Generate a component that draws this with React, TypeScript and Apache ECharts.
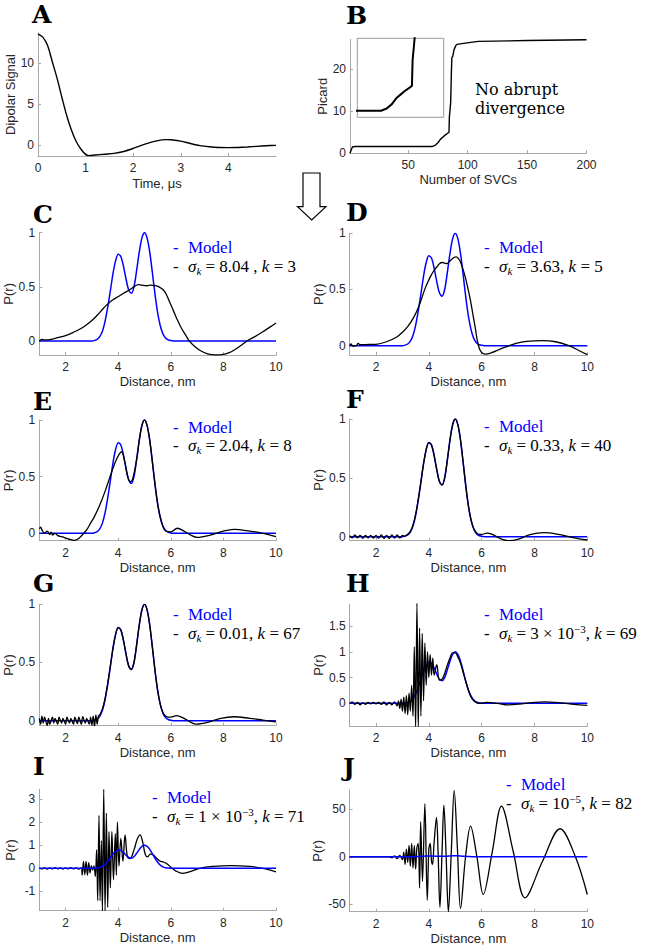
import React, { useEffect, useRef } from "react";
import * as echarts from "echarts";

type P = [number, number];

// ---------------- DATA ----------------
const timeTicks = [0, 1, 2, 3, 4];
const signalTicks = [0, 5, 10];
const svcTicks = [50, 100, 150, 200];
const picardTicks = [0, 10, 20];
const distanceTicks = [2, 4, 6, 8, 10];
const probTicks = [0, 0.5, 1];
const probTicksH = [0, 0.5, 1, 1.5];
const probTicksI = [-1, 0, 1, 2, 3];
const probTicksJ = [-50, 0, 50];

// A: dipolar signal vs time (us)
const dipolarSignal: P[] = [
  [0, 13.6], [0.1, 13.2], [0.2, 12.2], [0.3, 10.2], [0.4, 8.2], [0.5, 5.9], [0.6, 3.7], [0.7, 1.9],
  [0.8, 0.5], [0.9, -0.45], [1.0, -1.1], [1.07, -1.25], [1.2, -1.18], [1.4, -1.08], [1.6, -0.98],
  [1.8, -0.75], [2.0, -0.38], [2.2, 0.05], [2.4, 0.42], [2.6, 0.66], [2.7, 0.7], [2.8, 0.68],
  [3.0, 0.52], [3.2, 0.22], [3.4, -0.04], [3.6, -0.18], [3.8, -0.26], [4.0, -0.28], [4.2, -0.26],
  [4.4, -0.2], [4.6, -0.12], [4.8, -0.05], [5.0, 0],
];

// B: Picard curve vs number of SVCs
const picardCurve: P[] = [
  [1, 0], [2, 0.8], [3, 1.5], [5, 1.6], [70, 1.6], [72.6, 1.9], [75, 2.5], [77, 3.3], [79, 3.8],
  [81, 4.3], [83.4, 4.8], [84.3, 5.0], [84.6, 8.5], [85.7, 12], [86.3, 19], [86.7, 22.6], [87.5, 23],
  [88.5, 24.5], [90, 25.5], [91, 25.8], [98, 26.1], [109, 26.5], [150, 26.7], [200, 26.9],
];

// Model distance distribution (blue)
const modelDistribution: P[] = [
  [1, 0], [3.0, 0], [3.1, 0.005], [3.2, 0.015], [3.3, 0.04], [3.4, 0.09], [3.5, 0.18], [3.6, 0.31],
  [3.7, 0.46], [3.8, 0.62], [3.9, 0.74], [4.0, 0.8], [4.1, 0.78], [4.2, 0.69], [4.3, 0.57], [4.4, 0.47],
  [4.5, 0.44], [4.6, 0.5], [4.7, 0.65], [4.8, 0.82], [4.9, 0.95], [5.0, 1.0], [5.1, 0.95], [5.2, 0.82],
  [5.3, 0.63], [5.4, 0.43], [5.5, 0.26], [5.6, 0.14], [5.7, 0.065], [5.8, 0.027], [5.9, 0.01],
  [6.0, 0.003], [6.1, 0], [10, 0],
];

const fitC: P[] = [
  [1.0, 0], [1.1, 0.015], [1.2, 0.01], [1.4, 0.012], [1.7, 0.03], [2.0, 0.05], [2.3, 0.08], [2.55, 0.11],
  [2.8, 0.15], [3.05, 0.2], [3.25, 0.25], [3.43, 0.3], [3.6, 0.34], [3.8, 0.38], [4.0, 0.41], [4.2, 0.44],
  [4.45, 0.475], [4.6, 0.5], [4.76, 0.52], [4.9, 0.515], [5.08, 0.51], [5.25, 0.515], [5.4, 0.512],
  [5.55, 0.5], [5.72, 0.47], [5.85, 0.42], [5.97, 0.35], [6.1, 0.28], [6.22, 0.21], [6.4, 0.12],
  [6.6, 0.04], [6.7, 0.0], [6.9, -0.05], [7.1, -0.086], [7.4, -0.12], [7.7, -0.13], [8.0, -0.125],
  [8.2, -0.11], [8.4, -0.086], [8.65, -0.045], [8.9, 0.0], [9.2, 0.04], [9.5, 0.085], [9.75, 0.125], [10, 0.165],
];

const fitD: P[] = [
  [1.0, 0], [1.05, 0.015], [1.12, -0.003], [1.25, 0.0], [1.32, 0.02], [1.4, 0.008], [1.6, 0.01],
  [2.0, 0.012], [2.4, 0.035], [2.8, 0.08], [3.0, 0.12], [3.2, 0.17], [3.4, 0.24], [3.55, 0.31],
  [3.67, 0.38], [3.77, 0.45], [3.86, 0.51], [3.95, 0.56], [4.05, 0.61], [4.17, 0.66], [4.3, 0.7],
  [4.4, 0.73], [4.5, 0.74], [4.6, 0.735], [4.68, 0.73], [4.78, 0.75], [4.87, 0.77], [4.95, 0.785],
  [5.04, 0.79], [5.12, 0.775], [5.19, 0.75], [5.28, 0.69], [5.38, 0.61], [5.48, 0.51], [5.57, 0.41],
  [5.66, 0.29], [5.75, 0.17], [5.84, 0.04], [5.92, -0.03], [6.0, -0.06], [6.15, -0.075], [6.4, -0.06],
  [6.7, -0.03], [7.0, -0.005], [7.3, 0.02], [7.7, 0.038], [8.3, 0.045], [8.8, 0.035], [9.3, 0.0],
  [9.7, -0.045], [10, -0.08],
];

const fitE: P[] = [
  [1.0, 0.04], [1.05, 0.055], [1.1, 0.03], [1.2, 0.0], [1.3, 0.02], [1.4, -0.01], [1.45, 0.01],
  [1.5, -0.015], [1.6, 0.0], [1.7, -0.02], [1.85, -0.03], [2.05, -0.045], [2.2, -0.055], [2.35, -0.062],
  [2.5, -0.045], [2.65, -0.01], [2.8, 0.03], [2.95, 0.09], [3.1, 0.15], [3.3, 0.25], [3.5, 0.37],
  [3.75, 0.54], [3.95, 0.66], [4.13, 0.72], [4.25, 0.63], [4.35, 0.51], [4.46, 0.455], [4.55, 0.48],
  [4.7, 0.65], [4.8, 0.82], [4.9, 0.95], [5.0, 1.0], [5.1, 0.95], [5.2, 0.82], [5.3, 0.63], [5.4, 0.43],
  [5.5, 0.26], [5.6, 0.14], [5.7, 0.06], [5.8, 0.02], [6.0, 0.012], [6.25, 0.045], [6.5, 0.02],
  [6.8, -0.02], [7.0, -0.035], [7.5, -0.015], [8.0, 0.02], [8.4, 0.035], [9.0, 0.02], [9.5, 0.0], [10, -0.03],
];

const fitF: P[] = [
  [1.0, 0.01], [1.1, -0.01], [1.2, 0.015], [1.3, -0.01], [1.4, 0.01], [1.5, -0.015], [1.6, 0.01],
  [1.7, -0.01], [1.8, 0.012], [1.9, -0.012], [2.0, 0.01], [2.1, -0.012], [2.2, 0.015], [2.3, -0.015],
  [2.4, 0.012], [2.5, -0.015], [2.6, 0.015], [2.7, -0.012], [2.8, 0.015], [2.9, -0.01], [3.0, 0.01],
  [3.1, 0.005], [3.2, 0.02], [3.3, 0.045], [3.4, 0.1], [3.5, 0.19], [3.6, 0.32], [3.7, 0.47], [3.8, 0.62],
  [3.9, 0.74], [4.0, 0.8], [4.1, 0.78], [4.2, 0.69], [4.3, 0.57], [4.4, 0.47], [4.5, 0.44], [4.6, 0.5],
  [4.7, 0.65], [4.8, 0.82], [4.9, 0.95], [5.0, 1.0], [5.1, 0.95], [5.2, 0.82], [5.3, 0.63], [5.4, 0.43],
  [5.5, 0.26], [5.6, 0.14], [5.7, 0.07], [5.8, 0.035], [5.9, 0.02], [6.0, 0.02], [6.2, 0.03], [6.4, 0.02],
  [6.7, -0.015], [7.05, -0.034], [7.4, -0.02], [7.8, 0.015], [8.35, 0.034], [8.9, 0.02], [9.4, -0.005], [10, -0.028],
];

const fitG: P[] = [
  [1.0, 0.02], [1.05, -0.03], [1.1, 0.04], [1.15, -0.02], [1.2, 0.03], [1.3, -0.04], [1.35, 0.02],
  [1.4, -0.03], [1.5, 0.03], [1.55, -0.02], [1.6, 0.02], [1.7, -0.03], [1.75, 0.03], [1.85, -0.02],
  [1.9, 0.02], [2.0, -0.03], [2.05, 0.03], [2.15, -0.02], [2.2, 0.02], [2.3, -0.03], [2.35, 0.03],
  [2.45, -0.025], [2.5, 0.03], [2.6, -0.03], [2.65, 0.035], [2.75, -0.02], [2.8, 0.02], [2.9, -0.03],
  [2.95, 0.03], [3.0, -0.04], [3.05, 0.04], [3.1, -0.05], [3.15, 0.05], [3.2, -0.03], [3.25, 0.04],
  [3.3, 0.05], [3.4, 0.1], [3.5, 0.19], [3.6, 0.32], [3.7, 0.47], [3.8, 0.62], [3.9, 0.74], [4.0, 0.8],
  [4.1, 0.78], [4.2, 0.69], [4.3, 0.57], [4.4, 0.47], [4.5, 0.44], [4.6, 0.5], [4.7, 0.65], [4.8, 0.82],
  [4.9, 0.95], [5.0, 1.0], [5.1, 0.95], [5.2, 0.82], [5.3, 0.63], [5.4, 0.43], [5.5, 0.26], [5.6, 0.14],
  [5.7, 0.07], [5.8, 0.04], [5.9, 0.03], [6.0, 0.03], [6.22, 0.043], [6.5, 0.02], [6.98, -0.03],
  [7.4, -0.015], [7.9, 0.02], [8.4, 0.034], [9.0, 0.02], [9.5, 0.005], [10, -0.01],
];

const fitH: P[] = [
  [1.0, 0], [1.1, 0.03], [1.2, -0.02], [1.3, 0.02], [1.4, -0.03], [1.5, 0.01], [1.6, -0.02], [1.7, 0.02],
  [1.8, -0.01], [1.9, 0.02], [2.0, -0.01], [2.1, 0.02], [2.2, -0.02], [2.3, 0.03], [2.4, -0.03], [2.5, 0.02],
  [2.6, -0.03], [2.7, 0.03], [2.8, -0.05], [2.85, 0.05], [2.9, -0.1], [2.95, 0.08], [3.0, -0.15],
  [3.05, 0.12], [3.1, -0.2], [3.15, 0.15], [3.2, -0.22], [3.25, 0.2], [3.3, -0.15], [3.35, 0.35],
  [3.4, -0.25], [3.45, 1.1], [3.5, -0.5], [3.55, 1.95], [3.6, -0.5], [3.65, 1.46], [3.7, -0.25],
  [3.75, 1.36], [3.8, 0.05], [3.85, 1.17], [3.9, 0.35], [3.95, 1.0], [4.0, 0.5], [4.05, 0.95], [4.1, 0.55],
  [4.15, 0.88], [4.2, 0.55], [4.3, 0.75], [4.4, 0.45], [4.5, 0.47], [4.6, 0.58], [4.7, 0.74], [4.8, 0.88],
  [4.9, 0.98], [5.0, 0.98], [5.1, 0.9], [5.2, 0.78], [5.3, 0.6], [5.4, 0.42], [5.5, 0.25], [5.6, 0.12],
  [5.7, 0.05], [5.8, 0.015], [5.9, 0.0], [6.2, 0.02], [6.6, 0.0], [7.0, -0.03], [7.5, -0.01], [8.0, 0.02],
  [8.4, 0.03], [9.0, 0.01], [9.5, -0.02], [10, -0.04],
];

const fitI: P[] = [
  [1.0, 0.02], [1.1, -0.02], [1.2, 0.02], [1.3, -0.03], [1.4, 0.02], [1.5, -0.02], [1.6, 0.03], [1.7, -0.02],
  [1.8, 0.02], [1.9, -0.03], [2.0, 0.02], [2.1, -0.02], [2.2, 0.03], [2.3, -0.02], [2.4, 0.02], [2.5, -0.03],
  [2.6, 0.02], [2.63, -0.3], [2.68, 0.3], [2.73, -0.28], [2.78, 0.3], [2.83, -0.3], [2.88, 0.25],
  [2.93, -0.2], [2.98, 0.12], [3.03, -0.08], [3.08, 0.1], [3.13, -0.35], [3.18, 0.8], [3.22, -1.4],
  [3.27, 2.3], [3.31, -1.4], [3.36, 1.2], [3.4, -1.85], [3.45, 3.43], [3.5, -1.85], [3.55, 2.4],
  [3.6, -1.7], [3.65, 1.6], [3.7, -0.85], [3.76, 1.6], [3.82, -0.5], [3.89, 1.5], [3.93, -0.3], [3.97, 2.0],
  [4.03, 0.1], [4.1, 1.3], [4.18, 0.3], [4.26, 1.45], [4.35, 0.5], [4.45, 0.42], [4.6, 0.8], [4.72, 1.25],
  [4.83, 1.45], [4.93, 1.15], [5.03, 0.6], [5.12, 0.5], [5.22, 0.62], [5.34, 0.58], [5.45, 0.45],
  [5.58, 0.32], [5.72, 0.27], [5.85, 0.2], [6.0, 0.05], [6.2, -0.12], [6.45, -0.22], [6.7, -0.15],
  [7.1, 0.0], [7.6, 0.08], [8.3, 0.12], [9.0, 0.08], [9.5, 0.0], [10, -0.15],
];

const fitJ: P[] = [
  [1.0, 0], [2.5, 0], [2.6, -1], [2.7, 1], [2.8, -2], [2.9, 1.5], [3.0, -3], [3.05, 5], [3.1, -8], [3.15, 8],
  [3.2, -6], [3.25, 12], [3.3, -10], [3.35, 14], [3.4, -12], [3.45, 12], [3.5, -13], [3.55, 10], [3.6, 14],
  [3.65, -33], [3.69, 37], [3.76, -26], [3.85, 56], [3.94, -46], [4.0, 8], [4.05, 14], [4.1, -4],
  [4.14, -8], [4.2, 15], [4.29, 41.5], [4.35, 5], [4.42, -53.5], [4.5, 5], [4.57, 54.6], [4.65, 5],
  [4.74, -58], [4.85, 5], [4.96, 70], [5.08, 10], [5.2, -54.6], [5.39, 0], [5.58, 32.4], [5.82, 0],
  [6.06, -39.8], [6.4, 5], [6.75, 53.5], [7.2, 5], [7.64, -43.3], [8.3, -5], [8.97, 29.6], [9.55, 0], [10, -39.8],
];

const panelLetters = ["A", "B", "C", "D", "E", "F", "G", "H", "I", "J"];
// legend second-line texts (sigma_k, k) for C..J
const fitLegends = [
  "{i|σ}{s|k}{n| = 8.04 , }{i|k}{n| = 3}",
  "{i|σ}{s|k}{n| = 3.63, }{i|k}{n| = 5}",
  "{i|σ}{s|k}{n| = 2.04, }{i|k}{n| = 8}",
  "{i|σ}{s|k}{n| = 0.33, }{i|k}{n| = 40}",
  "{i|σ}{s|k}{n| = 0.01, }{i|k}{n| = 67}",
  "{i|σ}{s|k}{n| = 3 × 10}{p|−3}{n|, }{i|k}{n| = 69}",
  "{i|σ}{s|k}{n| = 1 × 10}{p|−3}{n|, }{i|k}{n| = 71}",
  "{i|σ}{s|k}{n| = 10}{p|−5}{n|, }{i|k}{n| = 82}",
];

// ---------------- STYLE / LAYOUT ----------------
const SANS = '"Liberation Sans", Arial, sans-serif';
const SERIF = '"Liberation Serif", "Times New Roman", serif';
const LETTER = '"DejaVu Serif", serif';
const AXIS = "#a8a8a8";
const TXT = "#262626";
const BLUE = "#0000ff";

const LCOL = { left: 39.3, width: 236.7, nameGap: 22.5, dashX: 173, textX: 188 };
const RCOL = { left: 349.6, width: 237.7, nameGap: 21, dashX: 484, textX: 499 };

const PANELS = [
  { col: LCOL, top: 232.7, height: 122.3, yMin: -0.13, yMax: 1, yTicks: probTicks, fit: fitC, blueTop: false, ly: 247.5 },
  { col: RCOL, top: 233.3, height: 121.7, yMin: -0.083, yMax: 1, yTicks: probTicks, fit: fitD, blueTop: false, ly: 247.5 },
  { col: LCOL, top: 420, height: 120.7, yMin: -0.065, yMax: 1, yTicks: probTicks, fit: fitE, blueTop: false, ly: 427 },
  { col: RCOL, top: 419, height: 121.7, yMin: -0.034, yMax: 1, yTicks: probTicks, fit: fitF, blueTop: false, ly: 426.7 },
  { col: LCOL, top: 604.3, height: 121.4, yMin: -0.043, yMax: 1, yTicks: probTicks, fit: fitG, blueTop: false, ly: 614.3 },
  { col: RCOL, top: 604, height: 122, yMin: -0.44, yMax: 1.93, yTicks: probTicksH, fit: fitH, blueTop: false, ly: 614.3 },
  { col: { ...LCOL, dashX: 152, textX: 167 }, top: 789.3, height: 121.4, yMin: -1.84, yMax: 3.43, yTicks: probTicksI, fit: fitI, blueTop: true, ly: 797.3 },
  { col: { ...RCOL, dashX: 506, textX: 521 }, top: 790, height: 121.7, yMin: -58, yMax: 70.5, yTicks: probTicksJ, fit: fitJ, blueTop: true, ly: 784.3 },
];

const letterPos: P[] = [
  [32, 14], [346, 15], [33, 214], [346, 212.5], [33, 401], [346, 399], [33, 583.5], [346, 583.5], [33, 766.7], [343, 767],
];

function xAx(gridIndex: number, min: number, max: number, ticks: number[], name: string, nameGap = 20) {
  return {
    type: "value", gridIndex, min, max, name, nameLocation: "middle", nameGap,
    nameTextStyle: { fontFamily: SANS, fontSize: 13, color: TXT },
    axisLine: { show: true, onZero: false, lineStyle: { color: AXIS, width: 1 } },
    axisTick: { show: true, inside: true, length: 3, customValues: ticks, lineStyle: { color: AXIS } },
    axisLabel: { show: true, customValues: ticks, margin: 6, fontFamily: SANS, fontSize: 12, color: TXT },
    splitLine: { show: false },
  };
}
function yAx(gridIndex: number, min: number, max: number, ticks: number[], name: string, nameGap: number) {
  return {
    type: "value", gridIndex, min, max, name, nameLocation: "middle", nameGap, nameRotate: 90,
    nameTextStyle: { fontFamily: SANS, fontSize: 13, color: TXT },
    axisLine: { show: true, onZero: false, lineStyle: { color: AXIS, width: 1 } },
    axisTick: { show: true, inside: true, length: 3, customValues: ticks, lineStyle: { color: AXIS } },
    axisLabel: { show: true, customValues: ticks, margin: 4, fontFamily: SANS, fontSize: 12, color: TXT },
    splitLine: { show: false },
  };
}
function lineSeries(idx: number, data: P[], color: string, width: number, smooth: number) {
  return {
    type: "line", xAxisIndex: idx, yAxisIndex: idx, data, showSymbol: false, symbol: "none",
    smooth, clip: true, lineStyle: { color, width }, itemStyle: { color }, silent: true,
  };
}

const rich = {
  n: { fontFamily: SERIF, fontSize: 17, fill: "#000", lineHeight: 20 },
  i: { fontFamily: SERIF, fontSize: 17, fontStyle: "italic", fill: "#000", lineHeight: 20 },
  s: { fontFamily: SERIF, fontSize: 11, fontStyle: "italic", fill: "#000", lineHeight: 12, verticalAlign: "bottom" },
  p: { fontFamily: SERIF, fontSize: 11, fill: "#000", lineHeight: 12, verticalAlign: "top" },
};

function buildOption() {
  const grid: any[] = [];
  const xAxis: any[] = [];
  const yAxis: any[] = [];
  const series: any[] = [];
  const graphic: any[] = [];
  const g = (left: number, top: number, width: number, height: number, extra: any = {}) =>
    ({ left, top, width, height, containLabel: false, outerBoundsMode: "none", ...extra });

  // A
  grid.push(g(38, 33, 238, 123));
  xAxis.push(xAx(0, 0, 5, timeTicks, "Time, μs", 20.5));
  yAxis.push(yAx(0, -1.3, 13.7, signalTicks, "Dipolar Signal", 17.5));
  series.push(lineSeries(0, dipolarSignal, "#000", 1.4, 0.3));

  // B
  grid.push(g(350, 39.3, 236.5, 114));
  xAxis.push(xAx(1, 1, 200, svcTicks, "Number of SVCs", 20));
  yAxis.push(yAx(1, 0, 27, picardTicks, "Picard", 20.5));
  series.push(lineSeries(1, picardCurve, "#000", 1.4, 0));

  // B inset
  grid.push(g(357.3, 38.3, 86.4, 79, { show: true, borderColor: "#9a9a9a", borderWidth: 1, backgroundColor: "#fff", z: 5 }));
  xAxis.push({ type: "value", gridIndex: 2, min: 59, max: 99, show: false });
  yAxis.push({ type: "value", gridIndex: 2, min: 0.7, max: 11.5, show: false });
  series.push({ ...lineSeries(2, picardCurve, "#000", 2, 0), z: 6 });

  // C..J
  PANELS.forEach((p, k) => {
    const idx = 3 + k;
    grid.push(g(p.col.left, p.top, p.col.width, p.height));
    xAxis.push(xAx(idx, 1, 10, distanceTicks, "Distance, nm", 20));
    yAxis.push(yAx(idx, p.yMin, p.yMax, p.yTicks, "P(r)", p.col.nameGap));
    const blue = lineSeries(idx, modelDistribution, BLUE, 1.5, 0.3);
    const black = lineSeries(idx, p.fit, "#000", 1.3, 0.35);
    if (p.blueTop) series.push(black, blue);
    else series.push(blue, black);

    const ly = p.ly;
    const ly2 = ly + 18.8;
    graphic.push(
      { type: "text", x: p.col.dashX, y: ly, style: { text: "-", fill: BLUE, fontFamily: SERIF, fontSize: 17, verticalAlign: "middle" } },
      { type: "text", x: p.col.textX, y: ly, style: { text: "Model", fill: BLUE, fontFamily: SERIF, fontSize: 17, verticalAlign: "middle" } },
      { type: "text", x: p.col.dashX, y: ly2, style: { text: "-", fill: "#000", fontFamily: SERIF, fontSize: 17, verticalAlign: "middle" } },
      { type: "text", x: p.col.textX, y: ly2, style: { text: fitLegends[k], rich, fill: "#000", fontFamily: SERIF, fontSize: 17, verticalAlign: "middle" } },
    );
  });

  panelLetters.forEach((L, k) => {
    graphic.push({
      type: "text", x: letterPos[k][0], y: letterPos[k][1],
      style: { text: L, fill: "#000", fontFamily: LETTER, fontWeight: "bold", fontSize: 25, verticalAlign: "middle" },
    });
  });

  graphic.push({
    type: "text", x: 475, y: 79.8, z: 10,
    style: { text: "No abrupt\ndivergence", fill: "#000", fontFamily: LETTER, fontSize: 16, lineHeight: 19, verticalAlign: "top" },
  });

  graphic.push({
    type: "polygon",
    shape: { points: [[303, 173], [320, 173], [320, 206.7], [326, 206.7], [311.7, 220], [297.5, 206.7], [303, 206.7]] },
    style: { fill: "#fff", stroke: "#000", lineWidth: 1.2 },
  });

  return { animation: false, backgroundColor: "#fff", grid, xAxis, yAxis, series, graphic };
}

export default function App() {
  const ref = useRef<HTMLDivElement>(null);
  useEffect(() => {
    document.body.style.margin = "0";
    if (!ref.current) return;
    const chart = echarts.init(ref.current, undefined, { renderer: "svg" });
    chart.setOption(buildOption() as any);
    return () => chart.dispose();
  }, []);
  return <div ref={ref} style={{ width: 650, height: 951 }} />;
}
